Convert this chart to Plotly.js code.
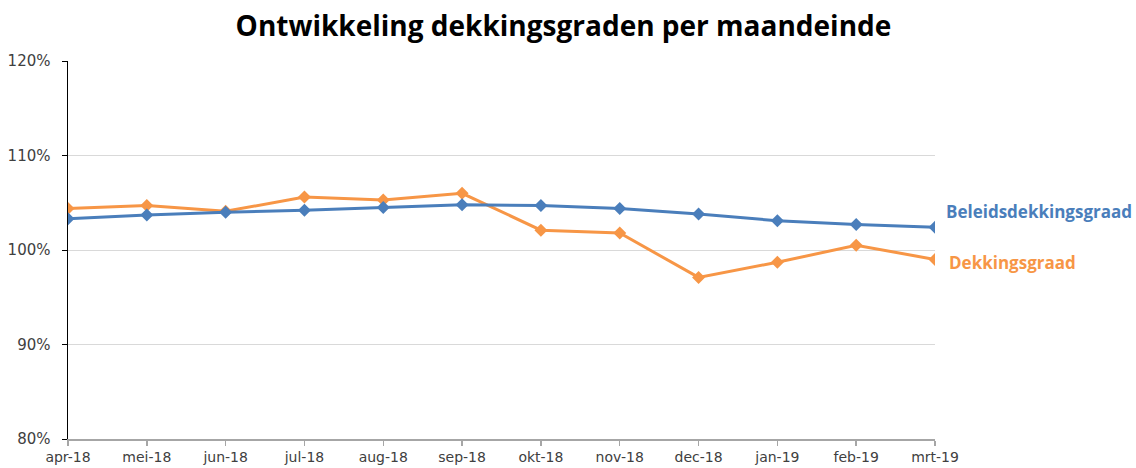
<!DOCTYPE html>
<html>
<head>
<meta charset="utf-8">
<script src="https://cdn.plot.ly/plotly-3.0.1.min.js"></script>
<style>html,body{margin:0;padding:0;background:#fff;}#chart{width:1136px;height:468px;}</style>
</head>
<body>
<div id="chart"></div>
<script>
const months = ["apr-18","mei-18","jun-18","jul-18","aug-18","sep-18","okt-18","nov-18","dec-18","jan-19","feb-19","mrt-19"];
const beleidsdekkingsgraad = [1.033,1.037,1.040,1.042,1.045,1.048,1.047,1.044,1.038,1.031,1.027,1.024];
const dekkingsgraad = [1.044,1.047,1.041,1.056,1.053,1.060,1.021,1.018,0.971,0.987,1.005,0.990];
const seriesNames = ["Beleidsdekkingsgraad","Dekkingsgraad"];
const colors = ["#4A7EBB","#F79646"];

const mk = (y, i) => ({
  x: months, y: y, type: "scatter", mode: "lines+markers", name: seriesNames[i],
  line: {color: colors[i], width: 3},
  marker: {symbol: "diamond", size: 10, color: colors[i]},
  hoverinfo: "x+y"
});
const last = months.length - 1;
const data = [mk(dekkingsgraad, 1), mk(beleidsdekkingsgraad, 0)];
const tickFont = {family: "DejaVu Sans, sans-serif", size: 15, color: "#404040"};
const layout = {
  width: 1136, height: 468,
  margin: {l: 68, r: 201, t: 61, b: 29},
  paper_bgcolor: "#fff", plot_bgcolor: "#fff",
  showlegend: false,
  title: {text: "<b>Ontwikkeling dekkingsgraden per maandeinde</b>", x: 0.496, xanchor: "center", y: 0.945, yanchor: "middle",
          font: {family: "Open Sans, Liberation Sans, sans-serif", size: 28, color: "#000"}},
  xaxis: {type: "category", range: [0, last], showgrid: false, showline: true, linecolor: "#A6A6A6", linewidth: 1.5,
          ticks: "outside", ticklen: 5, tickcolor: "#A6A6A6", tickwidth: 1.5, ticklabelstandoff: 0,
          tickfont: {family: "DejaVu Sans, sans-serif", size: 14, color: "#404040"}, zeroline: false, fixedrange: true},
  yaxis: {range: [0.8, 1.2], tickvals: [0.8,0.9,1.0,1.1,1.2], tickformat: ".0%", showgrid: true, gridcolor: "#D9D9D9", gridwidth: 1,
          showline: true, linecolor: "#000", linewidth: 1.5, ticks: "outside", ticklen: 5, tickcolor: "#000", ticklabelstandoff: 8,
          tickfont: tickFont, zeroline: false, fixedrange: true},
  annotations: [
    {x: months[last], y: beleidsdekkingsgraad[last], xref: "x", yref: "y", text: "<b>" + seriesNames[0] + "</b>", showarrow: false,
     xanchor: "left", xshift: 9, yshift: 16, font: {family: "Open Sans, Liberation Sans, sans-serif", size: 17, color: colors[0]}},
    {x: months[last], y: dekkingsgraad[last], xref: "x", yref: "y", text: "<b>" + seriesNames[1] + "</b>", showarrow: false,
     xanchor: "left", xshift: 12, yshift: -3, font: {family: "Open Sans, Liberation Sans, sans-serif", size: 17, color: colors[1]}}
  ]
};
Plotly.newPlot("chart", data, layout, {displayModeBar: false, staticPlot: true});
</script>
</body>
</html>
